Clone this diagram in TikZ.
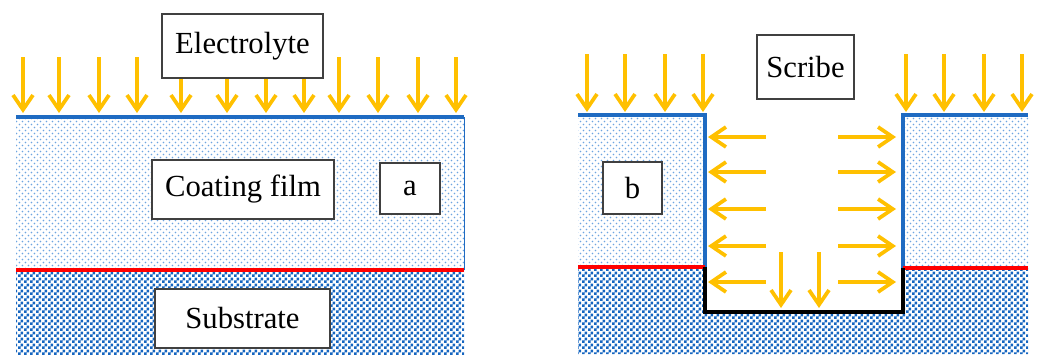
\documentclass[tikz,border=0pt]{standalone}
\usepackage{fontspec}
\setmainfont{Liberation Serif}
\usepackage{tikz}
\usetikzlibrary{arrows.meta,patterns,positioning}
\definecolor{CoatBlue}{HTML}{4A8FD8}
\definecolor{SubBlue}{HTML}{1565C0}
\definecolor{EdgeBlue}{HTML}{1F6BC2}
\definecolor{FluxYellow}{HTML}{FFC000}
\definecolor{BoxInk}{HTML}{404040}
\pgfdeclarepatternformonly{coatspeck}{\pgfqpoint{-1pt}{-1pt}}{\pgfqpoint{5.5pt}{5.5pt}}{\pgfqpoint{4.5pt}{4.5pt}}{
  \pgfpathcircle{\pgfqpoint{1.1pt}{1.1pt}}{0.7pt}
  \pgfpathcircle{\pgfqpoint{3.35pt}{3.35pt}}{0.7pt}
  \pgfusepath{fill}}
\pgfdeclarepatternformonly{subchecker}{\pgfpointorigin}{\pgfqpoint{4.5pt}{4.5pt}}{\pgfqpoint{4.5pt}{4.5pt}}{
  \pgfpathrectangle{\pgfpointorigin}{\pgfqpoint{2.3pt}{2.3pt}}
  \pgfpathrectangle{\pgfqpoint{2.25pt}{2.25pt}}{\pgfqpoint{2.3pt}{2.3pt}}
  \pgfusepath{fill}}

\begin{document}
\begin{tikzpicture}[x=0.75pt, y=-0.75pt,
  coat/.style={pattern=coatspeck, pattern color=CoatBlue!80},
  subs/.style={pattern=subchecker, pattern color=SubBlue},
  blueline/.style={draw=EdgeBlue, line width=2.4pt},
  redline/.style={draw=red, line width=3pt},
  pitline/.style={draw=black, line width=3pt},
  flux/.style={draw=FluxYellow, line width=2.8pt, -{Straight Barb[length=11pt,width=15pt]}},
  tagbox/.style={draw=BoxInk, fill=white, line width=0.8pt, inner sep=0pt,
                 font=\fontsize{23}{27}\selectfont}]
  \useasboundingbox (0,0) rectangle (1041,354);

  % panel a: intact coating
  \fill[coat] (16,117) rectangle (464,270);
  \fill[subs] (16,270) rectangle (464,354);
  \draw[EdgeBlue, line width=0.6pt] (464,117) -- (464,270);
  \draw[blueline] (16,117) -- (464,117);
  \draw[redline] (16,270) -- (464,270);
  \foreach \x in {23,59,99,137,181,227,266,304,339,378,418,456}
    \draw[flux] (\x,57) -- (\x,113);

  % panel b: scribed coating
  \fill[subs] (578,267) -- (705,267) -- (705,312) -- (903,312) -- (903,268)
    -- (1028,268) -- (1028,354) -- (578,354) -- cycle;
  \fill[coat] (578,115) rectangle (705,267);
  \fill[coat] (903,115) rectangle (1028,268);
  \draw[blueline] (578,115) -- (705,115) -- (705,267);
  \draw[blueline] (903,268) -- (903,115) -- (1028,115);
  \draw[redline] (578,267) -- (705,267);
  \draw[redline] (903,268) -- (1028,268);
  \draw[pitline] (705,267) -- (705,312) -- (903,312) -- (903,268);
  \foreach \x in {587,625,665,703,906,944,984,1022}
    \draw[flux] (\x,54) -- (\x,112);
  \foreach \y in {137,172,209,246,282}{
    \draw[flux] (766,\y) -- (708,\y);
    \draw[flux] (838,\y) -- (896,\y);
  }
  \foreach \x in {781,819}
    \draw[flux] (\x,252) -- (\x,308);

  % labels
  \node[tagbox, minimum width=120.75pt, minimum height=48pt] (electrolyte) at (242.5,46) {Electrolyte};
  \node[tagbox, minimum width=136.5pt, minimum height=44.25pt] (coating) at (243,189.5) {Coating film};
  \node[tagbox, minimum width=45pt, minimum height=38.25pt] (tagA) at (410,188.5) {a};
  \node[tagbox, minimum width=131.25pt, minimum height=44.25pt] (substrate) at (242.5,318.5) {Substrate};
  \node[tagbox, minimum width=72.75pt, minimum height=48pt] (scribe) at (805.5,67) {Scribe};
  \node[tagbox, minimum width=44.25pt, minimum height=39pt] (tagB) at (632.5,188) {b};
\end{tikzpicture}
\end{document}
